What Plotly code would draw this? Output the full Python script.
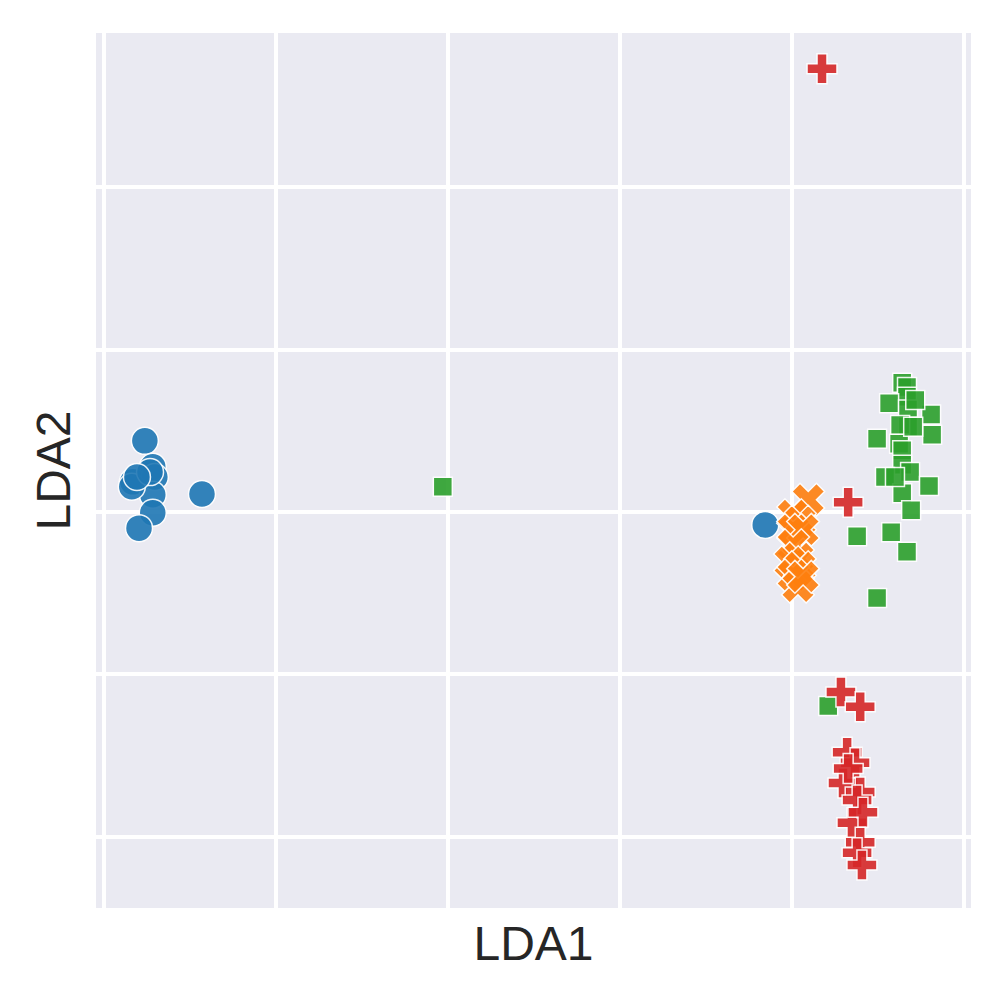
import plotly.graph_objects as go

# LDA projections per class
blue_x = [-13.81, -13.58, -14.16, -13.52, -13.58, -13.58, -13.98, -12.15, -14.19, -13.66, -14.04, 4.22]
blue_y = [0.875, 0.555, 0.37, 0.43, 0.21, -0.01, -0.20, 0.22, 0.31, 0.49, 0.43, -0.16]

orange_x = [5.47, 5.03, 5.23, 5.03, 5.32, 5.03, 5.17, 4.94, 5.23, 5.03, 5.17, 5.32]
orange_y = [0.15, -0.04, -0.12, -0.22, -0.22, -0.41, -0.57, -0.62, -0.68, -0.78, -0.92, -0.80]

green_x = [8.20, 8.34, 8.34, 7.82, 8.37, 9.04, 8.37, 8.14, 9.07, 7.47, 8.11, 8.20, 8.20,
           8.43, 7.70, 8.98, 8.20, 8.46, 7.88, 8.34, 6.89, 7.99, 8.52, 8.58, 7.47, 6.05, -5.15]
green_y = [1.59, 1.54, 1.42, 1.34, 1.26, 1.20, 1.05, 1.07, 0.95, 0.90, 0.84, 0.76, 0.58,
           0.49, 0.43, 0.32, 0.23, 0.02, -0.25, -0.49, -0.30, 0.43, 1.05, 1.38, -1.06, -2.39, 0.31]

red_x = [5.87, 6.63, 6.42, 6.98, 6.60, 6.83, 6.48, 6.98, 6.89, 6.74, 7.06, 6.98, 6.89, 7.03, 6.63]
red_y = [5.46, 0.12, -2.22, -2.40, -2.96, -3.09, -3.34, -3.45, -3.55, -3.83, -3.70, -4.07, -4.20, -4.35, -3.16]

x_ticks = [-15, -10, -5, 0, 5, 10]
y_ticks = [-4, -2, 0, 2, 4]
x_range = [-15.23, 10.20]
y_range = [-4.88, 5.90]

series = [
    (blue_x, blue_y, "#1f77b4", "circle", 27),
    (orange_x, orange_y, "#ff7f0e", "x", 29),
    (green_x, green_y, "#2ca02c", "square", 19),
    (red_x, red_y, "#d62728", "cross", 25),
]

fig = go.Figure()
for xs, ys, col, sym, sz in series:
    fig.add_trace(go.Scatter(
        x=xs, y=ys, mode="markers",
        marker=dict(color=col, symbol=sym, size=sz, opacity=0.9,
                    line=dict(color="white", width=1.5)),
        showlegend=False,
    ))

axis_common = dict(showticklabels=False, ticks="", showgrid=True, gridcolor="white",
                   gridwidth=4, zeroline=False, showline=False)

fig.update_layout(
    width=987, height=987,
    margin=dict(l=88, r=24, t=25, b=87),
    paper_bgcolor="white", plot_bgcolor="#EAEAF2",
    font=dict(family="Liberation Sans, Arial, sans-serif", color="#262626"),
    xaxis=dict(range=x_range, tickvals=x_ticks, **axis_common,
               title=dict(text="LDA1", font=dict(size=48), standoff=18)),
    yaxis=dict(range=y_range, tickvals=y_ticks, **axis_common,
               title=dict(text="LDA2", font=dict(size=48), standoff=9)),
)

fig.write_html("out.html")
